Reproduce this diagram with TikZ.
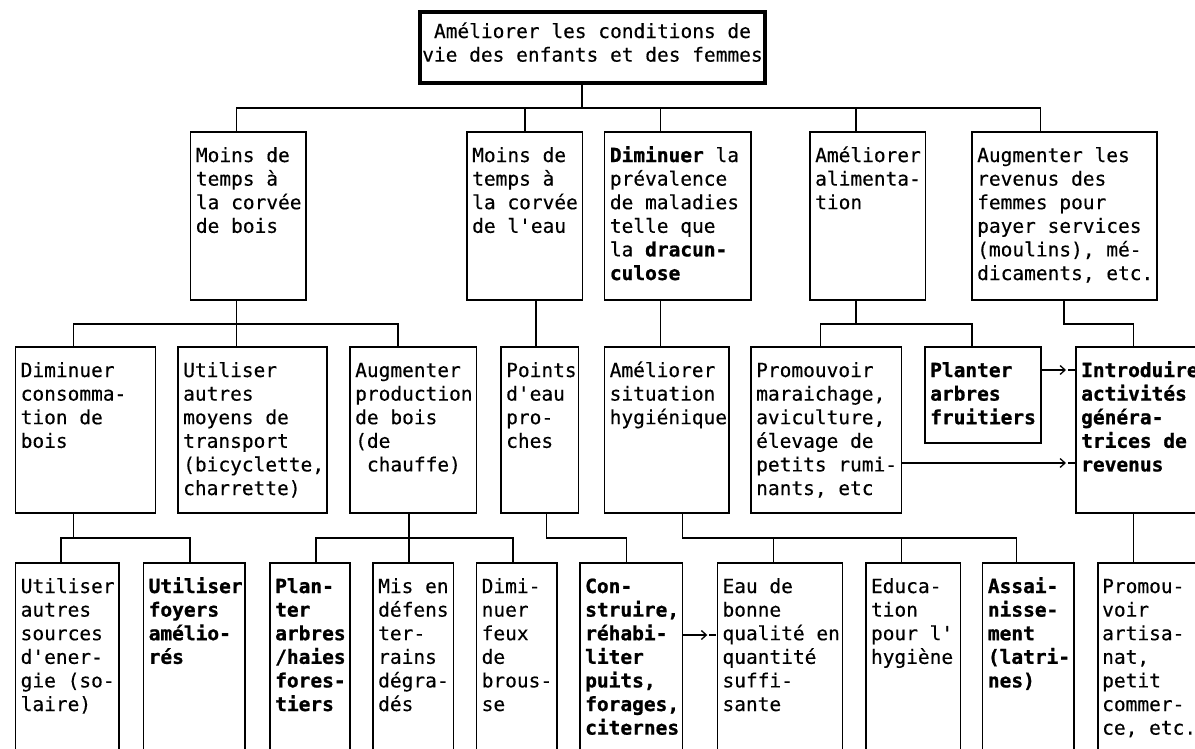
\documentclass[tikz,border=0pt]{standalone}
\usepackage{fontspec}
\newfontfamily\monofam{DejaVu Sans Mono}[FakeBold=0.3, BoldFeatures={FakeBold=1.0}]
\usetikzlibrary{arrows.meta,calc}
% text blocks: first baseline is the block's baseline
\newcommand\tl[1]{\vtop{\halign{##\hfil\cr#1\crcr}}}
\newcommand\tc[1]{\vtop{\halign{\hfil##\hfil\cr#1\crcr}}}
\newcommand\q{\textquotesingle}
% box from (x1,y1) to (x2,y2), y measured downwards
\newcommand\mkbox[5]{\node[bx, minimum width={(#4)-(#2)}, minimum height={(#5)-(#3)}] (#1) at (#2,#3) {};}
\newcommand\mktext[2]{\node[tx] (t#1) at ([xshift=5pt,yshift=-30pt]#1.north west) {\tl{#2}};}
\begin{document}
\begin{tikzpicture}[x=1pt,y=-1pt,
  bx/.style={draw, line width=1.4pt, inner sep=0pt, outer sep=0pt, anchor=north west},
  tx/.style={anchor=base west, inner sep=0pt, font=\fontsize{19.5pt}{23.6pt}\selectfont\monofam},
  wire/.style={line width=1.3pt},
  chev/.style={wire, -{Straight Barb[length=5pt,width=9pt]}},
]
\fill[white] (0,0) rectangle (1195,748);
\useasboundingbox (0,0) rectangle (1195,748);

% ---- boxes ----
\node[bx, line width=3.5pt, minimum width=345pt, minimum height=71pt] (T0) at (420,12) {};
\node[tx, anchor=base] (tT0) at ([yshift=-26pt]T0.north) {\tc{Améliorer les conditions de\cr vie des enfants et des femmes}};

\mkbox{A}{190.7}{132}{306}{300}
\mkbox{B}{467}{132}{582.5}{300}
\mkbox{C}{604.7}{132}{751}{300}
\mkbox{D}{810}{132}{925.6}{300}
\mkbox{E}{972}{132}{1157}{300}

\mkbox{F}{15.5}{347}{155.5}{513}
\mkbox{G}{178}{347}{327}{513}
\mkbox{H}{350}{347}{476.5}{513}
\mkbox{I}{501}{347}{578.5}{513}
\mkbox{J}{604.5}{347}{729}{513}
\mkbox{K}{751}{347}{901.7}{513}
\mkbox{L}{925}{347}{1041}{443}
\mkbox{M}{1076}{347}{1210}{513}

\mkbox{N}{15.5}{563}{119}{760}
\mkbox{O}{143.5}{563}{245}{760}
\mkbox{P}{270}{563}{350}{760}
\mkbox{Q}{373}{563}{453.5}{760}
\mkbox{R}{476.5}{563}{557}{760}
\mkbox{S}{580}{563}{682.7}{760}
\mkbox{T}{717.3}{563}{842.7}{760}
\mkbox{U}{865.8}{563}{960.4}{760}
\mkbox{V}{982.7}{563}{1074}{760}
\mkbox{W}{1098}{563}{1210}{760}

% ---- texts ----
\mktext{A}{Moins de\cr temps à\cr la corvée\cr de bois}
\mktext{B}{Moins de\cr temps à\cr la corvée\cr de l\q eau}
\mktext{C}{\bfseries Diminuer\mdseries{} la\cr prévalence\cr de maladies\cr telle que\cr la \bfseries dracun-\cr \bfseries culose}
\mktext{D}{Améliorer\cr alimenta-\cr tion}
\mktext{E}{Augmenter les\cr revenus des\cr femmes pour\cr payer services\cr (moulins), mé-\cr dicaments, etc.}

\mktext{F}{Diminuer\cr consomma-\cr tion de\cr bois}
\mktext{G}{Utiliser\cr autres\cr moyens de\cr transport\cr (bicyclette,\cr charrette)}
\mktext{H}{Augmenter\cr production\cr de bois\cr (de\cr \phantom{(}chauffe)}
\mktext{I}{Points\cr d\q eau\cr pro-\cr ches}
\mktext{J}{Améliorer\cr situation\cr hygiénique}
\mktext{K}{Promouvoir\cr maraichage,\cr aviculture,\cr élevage de\cr petits rumi-\cr nants, etc}
\mktext{L}{\bfseries Planter\cr \bfseries arbres\cr \bfseries fruitiers}
\mktext{M}{\bfseries Introduire\cr \bfseries activités\cr \bfseries généra-\cr \bfseries trices de\cr \bfseries revenus}

\mktext{N}{Utiliser\cr autres\cr sources\cr d\q ener-\cr gie (so-\cr laire)}
\mktext{O}{\bfseries Utiliser\cr \bfseries foyers\cr \bfseries amélio-\cr \bfseries rés}
\mktext{P}{\bfseries Plan-\cr \bfseries ter\cr \bfseries arbres\cr \bfseries /haies\cr \bfseries fores-\cr \bfseries tiers}
\mktext{Q}{Mis en\cr défens\cr ter-\cr rains\cr dégra-\cr dés}
\mktext{R}{Dimi-\cr nuer\cr feux\cr de\cr brous-\cr se}
\mktext{S}{\bfseries Con-\cr \bfseries struire,\cr \bfseries réhabi-\cr \bfseries liter\cr \bfseries puits,\cr \bfseries forages,\cr \bfseries citernes}
\mktext{T}{Eau de\cr bonne\cr qualité en\cr quantité\cr suffi-\cr sante}
\mktext{U}{Educa-\cr tion\cr pour l\q\cr hygiène}
\mktext{V}{\bfseries Assai-\cr \bfseries nisse-\cr \bfseries ment\cr \bfseries (latri-\cr \bfseries nes)}
\node[tx] (tW) at ([xshift=4pt,yshift=-30pt]W.north west) {\tl{Promou-\cr voir\cr artisa-\cr nat,\cr petit\cr commer-\cr ce, etc.}};

% ---- tree connectors ----
\draw[wire] (T0.south -| 582,0) -- (582,108);
\draw[wire] (A.north -| 236.7,0) -- (236.7,108) -- (1040.6,108) -- (E.north -| 1040.6,0);
\draw[wire] (B.north -| 525,0) -- (525,108);
\draw[wire] (C.north -| 660.6,0) -- (660.6,108);
\draw[wire] (D.north -| 856,0) -- (856,108);

\draw[wire] (A.south -| 236.7,0) -- (G.north -| 236.7,0);
\draw[wire] (F.north -| 73.5,0) -- (73.5,324) -- (398,324) -- (H.north -| 398,0);
\draw[wire] (B.south -| 536,0) -- (I.north -| 536,0);
\draw[wire] (C.south -| 660.6,0) -- (J.north -| 660.6,0);
\draw[wire] (D.south -| 856,0) -- (856,324);
\draw[wire] (K.north -| 820.7,0) -- (820.7,324) -- (972,324) -- (L.north -| 972,0);
\draw[wire] (E.south -| 1064,0) -- (1064,324) -- (1133.5,324) -- (M.north -| 1133.5,0);

\draw[wire] (F.south -| 73.5,0) -- (73.5,538);
\draw[wire] (N.north -| 61,0) -- (61,538) -- (190,538) -- (O.north -| 190,0);
\draw[wire] (H.south -| 409,0) -- (409,538);
\draw[wire] (P.north -| 316,0) -- (316,538) -- (513,538) -- (R.north -| 513,0);
\draw[wire] (Q.north -| 409,0) -- (409,538);
\draw[wire] (I.south -| 546.7,0) -- (546.7,538) -- (626.6,538) -- (S.north -| 626.6,0);
\draw[wire] (J.south -| 682.7,0) -- (682.7,538) -- (1016.5,538) -- (V.north -| 1016.5,0);
\draw[wire] (T.north -| 773.3,0) -- (773.3,538);
\draw[wire] (U.north -| 901.7,0) -- (901.7,538);
\draw[wire] (M.south -| 1133.5,0) -- (W.north -| 1133.5,0);

% ---- arrows between branches ----
\coordinate (pLM) at (M.west |- 0,370);
\coordinate (pKM) at (M.west |- 0,463);
\coordinate (pST) at (T.west |- 0,635);
\draw[chev] (L.east |- pLM) -- ($(pLM)+(-10,0)$);
\draw[wire] ($(pLM)+(-8,0)$) -- ($(pLM)+(-1,0)$);
\draw[chev] (K.east |- pKM) -- ($(pKM)+(-10,0)$);
\draw[wire] ($(pKM)+(-8,0)$) -- ($(pKM)+(-1,0)$);
\draw[chev] (S.east |- pST) -- ($(pST)+(-10,0)$);
\draw[wire] ($(pST)+(-8,0)$) -- ($(pST)+(-1,0)$);
\end{tikzpicture}
\end{document}
